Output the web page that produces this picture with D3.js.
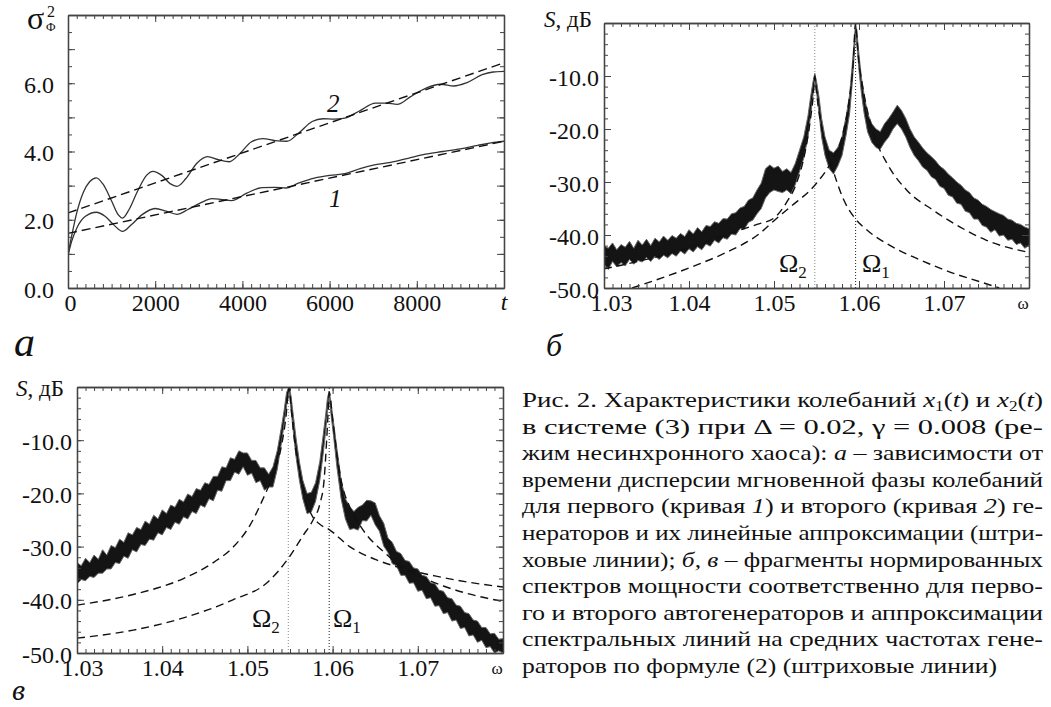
<!DOCTYPE html>
<html>
<head>
<meta charset="utf-8">
<script src="https://cdn.jsdelivr.net/npm/d3@7"></script>
<style>
body { margin: 0; background: #fff; font-family: 'Liberation Serif'; }
.preload { position: absolute; left: -50px; top: 0; font-family: 'Liberation Serif'; font-size: 20px; }
</style>
</head>
<body>
<div class="preload">&nbsp;<i>&nbsp;</i></div>
<div id="chart"></div>
<script>
// ---------- panel a: phase dispersion vs time ----------
var curve1Time = [0, 80, 200, 400, 650, 850, 1050, 1250, 1450, 1700, 2000, 2250, 2500, 2750, 3050, 3300, 3500, 3750,
    4100, 4450, 4750, 5000, 5300, 5650, 6000, 6350, 6700, 7000, 7400, 7800, 8200, 8600, 9000, 9400, 9700, 10000];
var curve1Disp = [0.95, 1.35, 1.75, 2.1, 2.22, 2.1, 1.85, 1.66, 1.85, 2.15, 2.33, 2.25, 2.16, 2.3, 2.5, 2.62, 2.6, 2.56,
    2.78, 2.94, 2.95, 2.93, 3.08, 3.22, 3.3, 3.35, 3.5, 3.6, 3.68, 3.8, 3.92, 4.0, 4.08, 4.18, 4.25, 4.3];
var curve2Time = [0, 80, 200, 350, 500, 650, 800, 1000, 1150, 1250, 1400, 1600, 1800, 1950, 2150, 2350, 2500, 2700,
    2950, 3200, 3450, 3700, 3950, 4200, 4470, 4750, 5020, 5300, 5600, 5850, 6100, 6350, 6700, 7050, 7300, 7550,
    7850, 8200, 8550, 8850, 9150, 9500, 9750, 10000];
var curve2Disp = [1.0, 1.5, 2.2, 2.8, 3.12, 3.23, 3.05, 2.55, 2.15, 2.05, 2.3, 2.85, 3.3, 3.42, 3.3, 3.05, 2.98, 3.2,
    3.65, 3.85, 3.76, 3.7, 3.95, 4.28, 4.38, 4.32, 4.3, 4.55, 4.88, 4.96, 4.95, 4.98, 5.2, 5.42, 5.42, 5.38,
    5.6, 5.85, 5.97, 5.92, 6.02, 6.25, 6.33, 6.35];
var fitTime = [0, 10000];
var fit1Disp = [1.6, 4.3];
var fit2Disp = [2.2, 6.6];
var timeTicks = [0, 2000, 4000, 6000, 8000];
var dispTicks = [0, 2, 4, 6];

// ---------- spectra (panels б, в) ----------
var omegaTicks = [1.03, 1.04, 1.05, 1.06, 1.07];
var levelTicks = [-50, -40, -30, -20, -10];
var lineFreqs = [1.0596, 1.0548];   // Ω1, Ω2

var specBOmega = [1.0300, 1.0305, 1.0310, 1.0315, 1.0320, 1.0325, 1.0330, 1.0335, 1.0340, 1.0345,
    1.0350, 1.0355, 1.0360, 1.0365, 1.0370, 1.0375, 1.0380, 1.0385, 1.0390, 1.0395,
    1.0400, 1.0405, 1.0410, 1.0415, 1.0420, 1.0425, 1.0430, 1.0435, 1.0440, 1.0445,
    1.0450, 1.0455, 1.0460, 1.0465, 1.0470, 1.0475, 1.0480, 1.0485, 1.0490, 1.0495,
    1.0500, 1.0505, 1.0510, 1.0515, 1.0520, 1.0525, 1.0530, 1.0535, 1.0540, 1.0543,
    1.0546, 1.0548, 1.0550, 1.0553, 1.0556, 1.0560, 1.0565, 1.0570, 1.0575, 1.0580,
    1.0585, 1.0589, 1.0592, 1.0594, 1.0596, 1.0598, 1.0600, 1.0603, 1.0606, 1.0610,
    1.0615, 1.0620, 1.0625, 1.0630, 1.0635, 1.0640, 1.0645, 1.0650, 1.0655, 1.0660,
    1.0665, 1.0670, 1.0675, 1.0680, 1.0685, 1.0690, 1.0695, 1.0700, 1.0705, 1.0710,
    1.0715, 1.0720, 1.0725, 1.0730, 1.0735, 1.0740, 1.0745, 1.0750, 1.0755, 1.0760,
    1.0765, 1.0770, 1.0775, 1.0780, 1.0785, 1.0790, 1.0795, 1.0800];
var specBHi = [-42.0, -42.5, -41.5, -42.8, -41.8, -42.3, -41.2, -42.5, -41.0, -41.9,
    -40.8, -42.0, -40.6, -41.3, -40.2, -41.0, -40.1, -40.6, -39.7, -40.3,
    -39.0, -39.8, -38.6, -39.4, -38.2, -38.4, -37.5, -37.8, -36.9, -37.0,
    -36.0, -35.8, -34.9, -34.6, -33.4, -33.0, -31.5, -30.2, -27.5, -26.8,
    -27.4, -27.0, -28.0, -27.5, -28.2, -26.5, -24.0, -21.5, -17.5, -14.0,
    -11.0, -9.5, -11.0, -14.0, -18.0, -21.5, -24.0, -24.5, -23.5, -21.5,
    -17.5, -13.5, -8.0, -4.0, 0.0, -2.5, -6.0, -10.5, -13.5, -17.0,
    -19.0, -20.0, -20.5, -19.0, -18.0, -16.8, -15.5, -16.5, -18.0, -20.0,
    -21.5, -22.5, -23.6, -24.5, -25.2, -26.0, -27.0, -27.6, -28.5, -29.2,
    -30.0, -30.6, -31.5, -32.0, -33.0, -33.4, -34.2, -34.6, -35.2, -35.6,
    -36.0, -36.3, -37.0, -37.2, -37.8, -38.0, -38.5, -38.8];
var specBLo = [-45.5, -46.5, -45.0, -46.0, -45.2, -45.8, -44.6, -45.5, -44.8, -45.1,
    -44.2, -45.0, -44.0, -44.6, -43.8, -44.3, -43.5, -44.0, -43.0, -43.6,
    -42.6, -43.2, -42.2, -42.8, -41.7, -42.1, -41.0, -41.5, -40.5, -40.8,
    -39.8, -40.0, -38.8, -38.9, -37.6, -37.2, -36.0, -35.0, -33.0, -32.0,
    -31.5, -31.8, -32.0, -31.5, -32.2, -30.5, -28.0, -25.5, -21.5, -17.5,
    -13.5, -11.0, -13.0, -17.0, -21.5, -25.0, -27.5, -28.5, -27.0, -25.0,
    -21.0, -17.0, -11.5, -7.0, -2.0, -5.0, -9.0, -13.5, -17.0, -20.5,
    -22.5, -23.5, -23.8, -22.5, -21.5, -20.0, -19.0, -20.0, -21.5, -23.5,
    -25.0, -26.0, -27.2, -27.8, -29.0, -29.5, -30.8, -31.2, -32.5, -32.8,
    -34.0, -34.2, -35.5, -35.8, -37.0, -37.0, -38.2, -38.5, -39.5, -39.0,
    -40.2, -40.0, -41.0, -40.8, -41.8, -41.5, -42.5, -42.0];

var specCOmega = [1.0300, 1.0305, 1.0310, 1.0315, 1.0320, 1.0325, 1.0330, 1.0335, 1.0340, 1.0345,
    1.0350, 1.0355, 1.0360, 1.0365, 1.0370, 1.0375, 1.0380, 1.0385, 1.0390, 1.0395,
    1.0400, 1.0405, 1.0410, 1.0415, 1.0420, 1.0425, 1.0430, 1.0435, 1.0440, 1.0445,
    1.0450, 1.0455, 1.0460, 1.0465, 1.0470, 1.0475, 1.0480, 1.0485, 1.0490, 1.0495,
    1.0500, 1.0505, 1.0510, 1.0515, 1.0520, 1.0525, 1.0530, 1.0535, 1.0540, 1.0543,
    1.0546, 1.0549, 1.0551, 1.0554, 1.0557, 1.0561, 1.0565, 1.0570, 1.0575, 1.0580,
    1.0585, 1.0589, 1.0592, 1.0594, 1.0596, 1.0598, 1.0601, 1.0605, 1.0610, 1.0615,
    1.0620, 1.0625, 1.0630, 1.0635, 1.0640, 1.0645, 1.0650, 1.0655, 1.0660, 1.0665,
    1.0670, 1.0675, 1.0680, 1.0685, 1.0690, 1.0695, 1.0700, 1.0705, 1.0710, 1.0715,
    1.0720, 1.0725, 1.0730, 1.0735, 1.0740, 1.0745, 1.0750, 1.0755, 1.0760, 1.0765,
    1.0770, 1.0775, 1.0780, 1.0785, 1.0790, 1.0795, 1.0800];
var specCHi = [-33.0, -33.6, -32.2, -33.0, -31.6, -32.4, -30.6, -31.6, -29.8, -30.2,
    -28.6, -29.2, -27.4, -27.8, -26.4, -26.8, -25.2, -25.8, -24.1, -24.8,
    -23.1, -23.8, -22.2, -22.6, -21.1, -21.6, -20.1, -20.6, -19.1, -19.4,
    -18.0, -18.3, -16.8, -16.8, -15.0, -15.2, -13.3, -13.6, -12.0, -12.4,
    -12.4, -13.8, -13.8, -15.2, -15.2, -16.4, -15.0, -12.0, -7.5, -4.5,
    -1.0, 0.0, -1.5, -5.5, -9.5, -14.0, -17.5, -20.0, -19.8, -18.0,
    -14.0, -9.0, -5.0, -2.0, -0.8, -2.8, -6.5, -11.5, -17.5, -21.0,
    -22.5, -23.4, -22.6, -22.2, -21.3, -21.4, -21.8, -24.2, -25.6, -28.4,
    -29.2, -30.9, -31.3, -32.6, -32.8, -34.0, -34.2, -35.4, -35.6, -36.8,
    -37.0, -38.2, -38.4, -39.6, -39.8, -41.0, -41.2, -42.4, -42.6, -43.8,
    -44.0, -45.2, -45.2, -46.4, -46.3, -47.4, -47.3];
var specCLo = [-37.0, -36.2, -36.4, -35.6, -35.8, -35.0, -35.0, -34.2, -34.2, -33.0,
    -33.2, -31.8, -32.2, -30.6, -31.0, -29.6, -29.8, -28.6, -28.8, -27.4,
    -27.8, -26.4, -26.8, -25.4, -25.8, -24.4, -24.8, -23.4, -23.8, -22.2,
    -22.6, -21.0, -21.4, -19.4, -19.6, -17.6, -17.6, -16.0, -16.4, -15.0,
    -16.6, -16.2, -18.0, -17.6, -19.4, -18.8, -18.8, -15.5, -10.5, -7.0,
    -3.5, -1.0, -4.0, -8.5, -13.0, -17.5, -21.0, -23.8, -23.5, -21.5,
    -17.5, -12.5, -8.0, -4.5, -2.0, -5.0, -9.0, -15.0, -21.0, -24.8,
    -26.8, -26.6, -26.9, -25.1, -25.2, -24.1, -25.9, -27.1, -29.9, -31.1,
    -33.2, -33.6, -35.4, -35.4, -36.9, -36.8, -38.4, -38.2, -39.8, -39.6,
    -41.2, -41.1, -42.6, -42.4, -44.0, -43.8, -45.4, -45.2, -46.8, -46.6,
    -48.0, -47.6, -49.0, -48.8, -50.0, -49.6, -50.0];

// dashed approximations of the spectral lines
var dashB1Omega = [1.0333, 1.0370, 1.0410, 1.0445, 1.0484, 1.0500, 1.0520, 1.0548, 1.0567, 1.0580, 1.0588, 1.0593,
    1.0596, 1.0599, 1.0605, 1.0617, 1.0633, 1.0656, 1.0687, 1.0719, 1.0750, 1.0800];
var dashB1Level = [-50.0, -48.0, -45.6, -43.2, -39.6, -37.3, -34.6, -30.6, -26.3, -21.5, -15.0, -8.0,
    0.0, -6.0, -12.6, -20.8, -26.5, -31.5, -35.3, -38.5, -41.0, -43.3];
var dashB2Omega = [1.0300, 1.0334, 1.0374, 1.0413, 1.0452, 1.0480, 1.0500, 1.0515, 1.0527, 1.0537, 1.0543, 1.0546,
    1.0548, 1.0550, 1.0554, 1.0560, 1.0567, 1.0574, 1.0581, 1.0595, 1.0609, 1.0640, 1.0672, 1.0707, 1.0742, 1.0765];
var dashB2Level = [-46.4, -45.2, -43.6, -41.6, -39.5, -38.0, -36.8, -33.8, -30.0, -24.0, -18.0, -14.0,
    -10.0, -13.0, -18.0, -22.5, -26.5, -30.0, -33.0, -36.8, -39.0, -42.3, -44.7, -47.0, -48.8, -50.0];
var dashC1Omega = [1.0300, 1.0366, 1.0425, 1.0483, 1.0523, 1.0549, 1.0565, 1.0577, 1.0585, 1.0590, 1.0593, 1.0595,
    1.0596, 1.0600, 1.0605, 1.0610, 1.0620, 1.0630, 1.0640, 1.0660, 1.0680, 1.0700, 1.0730, 1.0760, 1.0800];
var dashC1Level = [-47.2, -45.7, -43.4, -40.0, -36.8, -32.0, -28.0, -25.0, -22.0, -17.5, -10.0, -4.0,
    -1.0, -6.0, -12.5, -17.5, -22.5, -25.5, -27.8, -31.0, -33.6, -35.4, -37.4, -38.9, -40.3];
var dashC2Omega = [1.0300, 1.0366, 1.0425, 1.0460, 1.0485, 1.0503, 1.0517, 1.0530, 1.0540, 1.0545,
    1.0549, 1.0552, 1.0556, 1.0560, 1.0565, 1.0570, 1.0577, 1.0585, 1.0596, 1.0620, 1.0650, 1.0680, 1.0720, 1.0760, 1.0800];
var dashC2Level = [-41.0, -39.0, -36.0, -33.0, -29.8, -26.0, -21.5, -16.5, -11.0, -6.0,
    0.0, -5.0, -11.0, -15.0, -19.0, -22.0, -24.5, -25.8, -26.8, -30.0, -32.4, -34.0, -35.5, -36.7, -37.6];

var captionLines = [
    [["Рис. 2. Характеристики колебаний "], ["x", "i"], ["1", "sub"], ["(", "up"], ["t", "i"], [") и "], ["x", "i"], ["2", "sub"], ["(", "up"], ["t", "i"], [")"]],
    [["в системе (3) при Δ = 0.02, γ = 0.008 (ре-"]],
    [["жим несинхронного хаоса): "], ["а", "i"], [" – зависимости от"]],
    [["времени дисперсии мгновенной фазы колебаний"]],
    [["для первого (кривая "], ["1", "i"], [") и второго (кривая "], ["2", "i"], [") ге-"]],
    [["нераторов и их линейные аппроксимации (штри-"]],
    [["ховые линии); "], ["б, в", "i"], [" – фрагменты нормированных"]],
    [["спектров мощности соответственно для перво-"]],
    [["го и второго автогенераторов и аппроксимации"]],
    [["спектральных линий на средних частотах гене-"]],
    [["раторов по формуле (2) (штриховые линии)"]]
];
var captionWidths = [521, 521, 521, 521, 521, 521, 521, 521, 521, 521, 475];

var width = 1051, height = 707;
var axisColor = "#444";
var tickFont = 24;
var serif = "Liberation Serif";

var svg = d3.select("#chart")
    .append("svg")
    .attr("width", width)
    .attr("height", height)
    .attr("font-family", serif)
    .style("display", "block");

function zip(xs, ys) {
    return xs.map(function(v, i) { return [v, ys[i]]; });
}

// box with inward ticks on all four sides
function drawFrame(g, x, y, o) {
    var x0 = x.range()[0], x1 = x.range()[1], y0 = y.range()[0], y1 = y.range()[1];
    var sides = [
        {axis: d3.axisBottom, scale: x, tr: "translate(0," + y0 + ")", minor: o.xMinor, major: o.xMajor, labels: o.xLabels, fmt: o.xFmt, pad: 6},
        {axis: d3.axisTop, scale: x, tr: "translate(0," + y1 + ")", minor: o.xMinor, major: o.xMajor},
        {axis: d3.axisLeft, scale: y, tr: "translate(" + x0 + ",0)", minor: o.yMinor, major: o.yMajor, labels: o.yLabels, fmt: o.yFmt, pad: o.yPad},
        {axis: d3.axisRight, scale: y, tr: "translate(" + x1 + ",0)", minor: o.yMinor, major: o.yMajor}
    ];
    sides.forEach(function(s) {
        g.append("g").attr("transform", s.tr)
            .call(s.axis(s.scale).tickValues(s.minor).tickSizeInner(-4).tickSizeOuter(0).tickFormat(""));
        g.append("g").attr("transform", s.tr)
            .call(s.axis(s.scale).tickValues(s.major).tickSizeInner(-7).tickSizeOuter(0).tickFormat(""));
        if (s.labels) {
            var ax = g.append("g").attr("transform", s.tr)
                .call(s.axis(s.scale).tickValues(s.labels).tickSize(0).tickPadding(s.pad).tickFormat(s.fmt));
            ax.select(".domain").remove();
            ax.attr("font-family", serif).attr("font-size", tickFont);
            ax.selectAll("text")
                .attr("font-family", serif)
                .style("font-family", "'Liberation Serif'")
                .attr("font-size", tickFont)
                .attr("fill", "#111");
            if (s.axis === d3.axisLeft) ax.selectAll("text").attr("dy", "0.38em");
            else {
                ax.selectAll("text").attr("dy", "0.72em");
                // first label sits a little right of its tick, clear of the y labels
                ax.selectAll("text").filter(function(d, i) { return i === 0; }).attr("dx", o.firstDx || 0);
            }
        }
    });
    g.selectAll(".domain").attr("stroke", axisColor).attr("stroke-width", 1.3);
    g.selectAll(".tick line").attr("stroke", axisColor).attr("stroke-width", 1);
}

function addClip(id, x, y) {
    svg.append("clipPath").attr("id", id)
        .append("rect")
        .attr("x", x.range()[0]).attr("y", y.range()[1])
        .attr("width", x.range()[1] - x.range()[0])
        .attr("height", y.range()[0] - y.range()[1]);
}

function label(g, x, y, size, txt, italic) {
    return g.append("text").attr("x", x).attr("y", y)
        .attr("font-family", serif)
        .style("font-family", "'Liberation Serif'")
        .attr("font-size", size)
        .attr("font-style", italic ? "italic" : null)
        .attr("fill", "#111")
        .text(txt);
}

// ================= panel a =================
var xA = d3.scaleLinear().domain([0, 10000]).range([68, 504]);
var yA = d3.scaleLinear().domain([0, 8]).range([288, 15]);
var gA = svg.append("g");
addClip("clipA", xA, yA);

var lineA = d3.line()
    .x(function(d) { return xA(d[0]); })
    .y(function(d) { return yA(d[1]); })
    .curve(d3.curveMonotoneX);

var plotA = gA.append("g").attr("clip-path", "url(#clipA)");
[[curve1Time, curve1Disp], [curve2Time, curve2Disp]].forEach(function(c) {
    plotA.append("path").datum(zip(c[0], c[1]))
        .attr("d", lineA)
        .attr("fill", "none")
        .attr("stroke", "#333")
        .attr("stroke-width", 1.3);
});
[fit1Disp, fit2Disp].forEach(function(f) {
    plotA.append("path").datum(zip(fitTime, f))
        .attr("d", lineA)
        .attr("fill", "none")
        .attr("stroke", "#111")
        .attr("stroke-width", 1.4)
        .attr("stroke-dasharray", "9,5");
});

drawFrame(gA, xA, yA, {
    xMinor: d3.range(0, 10001, 200), xMajor: d3.range(0, 10001, 2000), xLabels: timeTicks,
    xFmt: function(d) { return String(d); }, firstDx: 2,
    yMinor: d3.range(0, 8.01, 0.5), yMajor: d3.range(0, 8.01, 1), yLabels: dispTicks,
    yFmt: function(d) { return d.toFixed(1); }, yPad: 14
});

label(gA, xA(10000), 310, 24, "t", true).attr("text-anchor", "middle");
label(gA, 327, 112, 25, "2", true);
label(gA, 329, 207, 25, "1", true);
var sig = label(gA, 27, 29, 32, "");
sig.append("tspan").text("σ");
sig.append("tspan").attr("x", 47).attr("y", 17).attr("font-size", 16).text("2");
sig.append("tspan").attr("x", 46).attr("y", 31).attr("font-size", 13).text("Φ");
label(gA, 14, 356, 42, "а", true);

// ================= spectrum panels =================
function drawSpectrum(id, x, y, trace, dashes, omegaLabelY, omegaLabelPos, axisLabel, panelLetter, firstDx) {
    var g = svg.append("g");
    addClip(id, x, y);
    var plot = g.append("g").attr("clip-path", "url(#" + id + ")");

    // vertical dotted lines at Ω1 and Ω2
    lineFreqs.forEach(function(f, i) {
        plot.append("line")
            .attr("x1", x(f)).attr("x2", x(f))
            .attr("y1", y.range()[0]).attr("y2", y.range()[1])
            .attr("stroke", i === 0 ? "#222" : "#888")
            .attr("stroke-width", 1)
            .attr("stroke-dasharray", "1,2");
    });

    var pts = trace.omega.map(function(w, i) { return {w: w, hi: trace.hi[i], lo: trace.lo[i]}; });
    plot.append("path").datum(pts)
        .attr("d", d3.area()
            .x(function(d) { return x(d.w); })
            .y0(function(d) { return y(d.lo); })
            .y1(function(d) { return y(d.hi); }))
        .attr("fill", "#141414");
    var lineS = d3.line().x(function(d) { return x(d[0]); }).y(function(d) { return y(d[1]); });
    [trace.hi, trace.lo].forEach(function(edge) {
        plot.append("path").datum(zip(trace.omega, edge))
            .attr("d", lineS)
            .attr("fill", "none")
            .attr("stroke", "#666")
            .attr("stroke-width", 1);
    });

    var lineD = d3.line()
        .x(function(d) { return x(d[0]); })
        .y(function(d) { return y(d[1]); })
        .curve(d3.curveMonotoneX);
    dashes.forEach(function(d) {
        plot.append("path").datum(zip(d[0], d[1]))
            .attr("d", lineD)
            .attr("fill", "none")
            .attr("stroke", "#111")
            .attr("stroke-width", 1.4)
            .attr("stroke-dasharray", "8,5");
    });

    drawFrame(g, x, y, {
        xMinor: d3.range(1.030, 1.0805, 0.001), xMajor: d3.range(1.03, 1.0805, 0.01), xLabels: omegaTicks,
        xFmt: function(d) { return d.toFixed(2); }, firstDx: firstDx,
        yMinor: d3.range(-50, 0.1, 2), yMajor: d3.range(-50, 0.1, 10), yLabels: levelTicks,
        yFmt: function(d) { return d.toFixed(1); }, yPad: 5
    });

    label(g, x(1.08) - 6, y.range()[0] + 21, 17, "ω").attr("text-anchor", "middle");

    // Ω labels
    [["Ω", "1", omegaLabelPos[0]], ["Ω", "2", omegaLabelPos[1]]].forEach(function(l) {
        var t = label(g, l[2], omegaLabelY, 26, "");
        t.append("tspan").text(l[0]);
        t.append("tspan").attr("dy", 6).attr("font-size", 17).text(l[1]);
    });

    var yl = label(g, axisLabel[0], axisLabel[1], 23, "");
    yl.append("tspan").attr("font-style", "italic").text("S");
    yl.append("tspan").text(", дБ");

    label(g, panelLetter[0], panelLetter[1], panelLetter[3], panelLetter[2], true);
}

var xB = d3.scaleLinear().domain([1.03, 1.08]).range([604, 1029]);
var yB = d3.scaleLinear().domain([-50, 0]).range([288, 23]);
drawSpectrum("clipB", xB, yB,
    {omega: specBOmega, hi: specBHi, lo: specBLo},
    [[dashB1Omega, dashB1Level], [dashB2Omega, dashB2Level]],
    272, [862, 779], [544, 27], [546, 356, "б", 32], 7);

var xC = d3.scaleLinear().domain([1.03, 1.08]).range([77, 503]);
var yC = d3.scaleLinear().domain([-50, 0]).range([653, 387]);
drawSpectrum("clipC", xC, yC,
    {omega: specCOmega, hi: specCHi, lo: specCLo},
    [[dashC1Omega, dashC1Level], [dashC2Omega, dashC2Level]],
    627, [333, 252], [16, 396], [12, 700, "в", 30], 5);

// ================= caption =================
var cap = svg.append("g");
captionLines.forEach(function(line, i) {
    var t = label(cap, 522, 407 + i * 26.6, 22, "")
        .attr("textLength", captionWidths[i])
        .attr("lengthAdjust", "spacingAndGlyphs");
    line.forEach(function(seg) {
        var s = t.append("tspan").text(seg[0]);
        if (seg[1] === "i") s.attr("font-style", "italic");
        if (seg[1] === "sub") s.attr("font-size", 14).attr("dy", 4);
        if (seg[1] === "up") s.attr("dy", -4);
    });
});
</script>
</body>
</html>
